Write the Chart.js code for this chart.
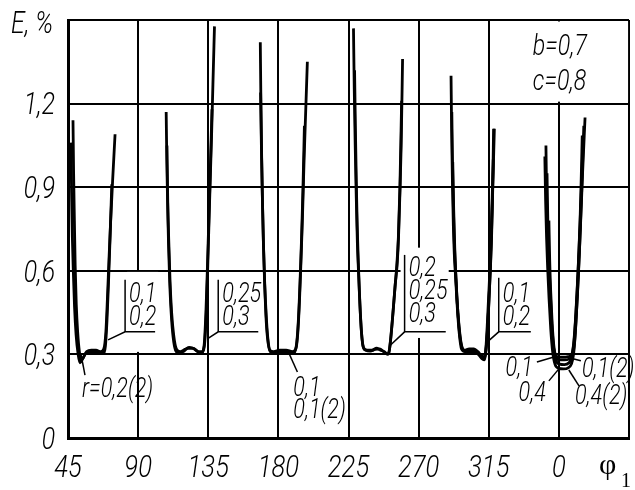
<!DOCTYPE html>
<html><head><meta charset="utf-8">
<script src="https://cdn.jsdelivr.net/npm/chart.js@4/dist/chart.umd.min.js"></script>
<style>html,body{margin:0;padding:0;background:#fff}#wrap{width:635px;height:490px}</style>
</head><body><div id="wrap"><canvas id="c" width="635" height="490"></canvas></div>
<script>
// ---- axes ----
const xTicks = [45, 90, 135, 180, 225, 270, 315, 360, 405];
const xTickLabels = ['45', '90', '135', '180', '225', '270', '315', '0', ''];
const yTicks = [0, 0.3, 0.6, 0.9, 1.2, 1.5];
const yTickLabels = ['0', '0,3', '0,6', '0,9', '1,2', ''];

// ---- curves (phi1 in degrees, E in %) ----
const u1a_x = [48.2,48.6,49.1,49.6,50.3,51.2,52.3,53.5,55,57,60,63,66,68,69.3,70.3,71.3,72.3,73.6,75.2];
const u1a_y = [1.14,0.95,0.78,0.62,0.48,0.38,0.31,0.28,0.29,0.31,0.315,0.315,0.31,0.32,0.38,0.5,0.64,0.77,0.92,1.09];
const u1b_x = [46.9,47.3,47.8,48.4,49.2,50.2,51.5,52.7,54.5,56.5,60,64,67.5,69,70,71,72,73.1];
const u1b_y = [1.06,0.88,0.72,0.6,0.47,0.37,0.3,0.27,0.285,0.305,0.31,0.31,0.305,0.33,0.42,0.56,0.72,0.91];

const u2a_x = [108,108.4,108.9,109.5,110.2,111.2,112.5,114,116,119,122,125,128,130.5,132.3,133.5,134.4,135.2,136,137.4];
const u2a_y = [1.17,1.0,0.85,0.7,0.57,0.45,0.36,0.315,0.305,0.31,0.322,0.322,0.31,0.305,0.33,0.45,0.6,0.75,0.9,1.18];
const u2b_x = [108.5,109,109.7,110.5,111.5,112.8,114.5,117,120,123,126,129,131,132.7,133.8,134.7,135.5,136.4,137.2,138,139];
const u2b_y = [1.05,0.85,0.7,0.56,0.45,0.37,0.32,0.31,0.318,0.325,0.32,0.31,0.31,0.34,0.46,0.62,0.78,0.95,1.1,1.27,1.477];

const u3a_x = [168.4,168.8,169.3,169.9,170.5,171.2,172,173,174.5,177,181,185,189,191.2,192.5,193.6,194.6,195.5,196.4,197.4,198.6];
const u3a_y = [1.42,1.2,1.0,0.82,0.68,0.55,0.44,0.36,0.315,0.31,0.315,0.315,0.31,0.32,0.38,0.5,0.65,0.8,0.98,1.15,1.35];
const u3b_x = [168.6,169.1,169.7,170.4,171.2,172.1,173.2,174.8,178,182,186,189.5,191.5,192.8,193.9,194.9,195.8,196.7];
const u3b_y = [1.24,1.05,0.87,0.7,0.56,0.45,0.36,0.31,0.305,0.31,0.31,0.305,0.33,0.42,0.56,0.72,0.9,1.12];

const u4a_x = [228.2,228.7,229.3,230,230.7,231.4,232.3,233.3,234.5,237,240,243,245.5,248,250.2,251.2,252.3,253.7,255,256.3,257.1,258,258.8,259.7];
const u4a_y = [1.47,1.25,1.05,0.86,0.7,0.6,0.48,0.38,0.325,0.315,0.315,0.322,0.315,0.31,0.3,0.315,0.37,0.46,0.55,0.63,0.72,0.88,1.05,1.36];
const u4b_x = [228.9,229.4,230,230.6,231.3,232.1,233.1,234.2,236,239,242,245,247.5,249.5,250.8,252,253.4,254.8,256,257,258,259.1];
const u4b_y = [1.32,1.12,0.92,0.76,0.63,0.51,0.4,0.335,0.315,0.312,0.318,0.32,0.31,0.302,0.305,0.35,0.44,0.54,0.62,0.72,0.9,1.21];

const u5a_x = [290.8,291.2,291.7,292.3,292.9,293.8,294.8,296,297.5,300,303,306,308.5,310.5,312,313,314,315,316,316.8,317.5,318.6];
const u5a_y = [1.30,1.1,0.92,0.76,0.66,0.57,0.47,0.38,0.32,0.31,0.315,0.315,0.3,0.285,0.28,0.3,0.37,0.48,0.6,0.72,0.88,1.11];
const u5b_x = [291.3,291.7,292.2,292.8,293.6,294.6,295.8,297.3,299.5,302.5,305.5,308,310.3,311.8,313,314.1,315.2,316.1,316.9,317.6,318.1];
const u5b_y = [1.17,1.0,0.85,0.72,0.61,0.5,0.41,0.34,0.315,0.32,0.32,0.31,0.295,0.29,0.31,0.38,0.5,0.62,0.76,0.92,1.11];
const u5c_x = [291.9,292.5,293.2,294.1,295.2,296.6,298.5,301,304,307,309.5,311.5,312.8,314,315.3,316.4,317.3,317.9];
const u5c_y = [0.99,0.82,0.68,0.56,0.45,0.36,0.315,0.31,0.31,0.305,0.295,0.285,0.3,0.4,0.55,0.7,0.88,1.0];

const u6a_x = [351.7,352.1,352.6,353.2,354,355,356.2,357.6,360,363,366,368.3,369.5,370.6,371.7,372.7,373.6,374.3,375];
const u6a_y = [1.05,0.88,0.74,0.64,0.53,0.42,0.34,0.3,0.29,0.29,0.292,0.3,0.34,0.42,0.53,0.65,0.78,0.92,1.085];
const u6b_x = [351,351.5,352.1,352.8,353.7,354.8,356,357.5,360,363,366,368,369.4,370.6,371.8,372.9,374,375.2,376.8];
const u6b_y = [1.01,0.85,0.72,0.61,0.5,0.39,0.31,0.265,0.25,0.248,0.252,0.265,0.3,0.38,0.5,0.63,0.78,0.95,1.15];
const u6c_x = [353.6,354.1,354.8,355.7,356.8,358.2,360.5,363.5,366.5,368.5,369.8,371,372.2,373.4,374.6,375.6];
const u6c_y = [0.78,0.64,0.52,0.41,0.33,0.29,0.28,0.28,0.283,0.3,0.35,0.45,0.58,0.74,0.92,1.085];
const u6d_x = [352.4,352.9,353.6,354.5,355.5,356.7,358,360.5,363.5,366.5,368.5,369.8,371,372.2,373.4,374.6,376];
const u6d_y = [0.95,0.78,0.64,0.52,0.41,0.32,0.28,0.265,0.263,0.27,0.29,0.33,0.42,0.55,0.7,0.88,1.12];

const curves = [
  [u1a_x,u1a_y],[u1b_x,u1b_y],[u2a_x,u2a_y],[u2b_x,u2b_y],[u3a_x,u3a_y],[u3b_x,u3b_y],
  [u4a_x,u4a_y],[u4b_x,u4b_y],[u5a_x,u5a_y],[u5b_x,u5b_y],[u5c_x,u5c_y],
  [u6a_x,u6a_y],[u6b_x,u6b_y],[u6c_x,u6c_y],[u6d_x,u6d_y]
];

// ---- annotations (data units) ----
const annTexts = [
  ['0,1', 84.2, 0.489, 'left'], ['0,2', 84.2, 0.406, 'left'],
  ['0,25', 144.0, 0.489, 'left'], ['0,3', 144.0, 0.406, 'left'],
  ['0,1', 189.6, 0.151, 'left'], ['0,1(2)', 189.6, 0.072, 'left'],
  ['r=0,2(2)', 54.0, 0.147, 'left'],
  ['0,2', 263.6, 0.582, 'left'], ['0,25', 263.6, 0.499, 'left'], ['0,3', 263.6, 0.417, 'left'],
  ['0,1', 324.0, 0.489, 'left'], ['0,2', 324.0, 0.406, 'left'],
  ['0,1', 343.3, 0.223, 'right'], ['0,4', 351.6, 0.133, 'right'],
  ['0,1(2)', 374.8, 0.219, 'left'], ['0,4(2)', 370.3, 0.122, 'left']
];
const paramTexts = [['b=0,7', 343.3, 1.376], ['c=0,8', 343.3, 1.250]];
const annLines = [
  [[70.7,0.352],[81.64,0.381],[100.9,0.381]], [[81.64,0.381],[81.64,0.568]],
  [[134.4,0.356],[141.4,0.381],[167.1,0.381]], [[141.4,0.381],[141.4,0.568]],
  [[186.4,0.309],[192.2,0.237]],
  [[53.4,0.298],[55.9,0.226]],
  [[252.0,0.334],[261.0,0.381],[287.4,0.381]], [[261.0,0.381],[261.0,0.657]],
  [[315.6,0.352],[321.4,0.381],[342.0,0.381]], [[321.4,0.381],[321.4,0.575]],
  [[345.9,0.273],[356.8,0.291]], [[353.6,0.205],[360.0,0.248]],
  [[374.1,0.277],[367.1,0.287]], [[372.9,0.187],[366.4,0.244]]
];
const whiteBoxes = [
  [82.9,102.9,0.596,0.309],
  [258.4,289.3,0.683,0.359],
  [316.9,404.4,1.4946,1.207]
];

const SANS = 'Roboto, "Liberation Sans", sans-serif';
const SERIF = '"Liberation Serif", "DejaVu Serif", serif';
const NARROW = 0.8;

function narrowText(ctx, text, px, py, align, baseline, size) {
  ctx.save();
  ctx.translate(px, py);
  ctx.scale(NARROW, 1);
  ctx.font = 'italic 300 ' + size + 'px ' + SANS;
  ctx.textAlign = align;
  ctx.textBaseline = baseline;
  ctx.fillText(text, 0, 0);
  ctx.restore();
}

const annPlugin = {
  id: 'annPlugin',
  beforeDatasetsDraw(chart) {
    const {ctx, scales: {x, y}} = chart;
    ctx.save();
    ctx.fillStyle = '#fff';
    whiteBoxes.forEach(b => {
      const x0 = x.getPixelForValue(b[0]), x1 = x.getPixelForValue(b[1]);
      const y0 = y.getPixelForValue(b[2]), y1 = y.getPixelForValue(b[3]);
      ctx.fillRect(Math.min(x0,x1), Math.min(y0,y1), Math.abs(x1-x0), Math.abs(y1-y0));
    });
    ctx.restore();
  },
  afterDatasetsDraw(chart) {
    const {ctx, scales: {x, y}, chartArea} = chart;
    ctx.save();
    ctx.strokeStyle = '#000';
    ctx.lineWidth = 1.5;
    annLines.forEach(pl => {
      ctx.beginPath();
      pl.forEach((p, i) => {
        const px = x.getPixelForValue(p[0]), py = y.getPixelForValue(p[1]);
        if (i === 0) ctx.moveTo(px, py); else ctx.lineTo(px, py);
      });
      ctx.stroke();
    });
    ctx.fillStyle = '#000';
    annTexts.forEach(t => narrowText(ctx, t[0], x.getPixelForValue(t[1]), y.getPixelForValue(t[2]), t[3], 'alphabetic', 27));
    paramTexts.forEach(t => narrowText(ctx, t[0], x.getPixelForValue(t[1]), y.getPixelForValue(t[2]), 'left', 'alphabetic', 29));
    // tick labels
    yTicks.forEach((v, i) => narrowText(ctx, yTickLabels[i], chartArea.left - 13, y.getPixelForValue(v) + 3, 'right', 'middle', 31));
    xTicks.forEach((v, i) => narrowText(ctx, xTickLabels[i], x.getPixelForValue(v), chartArea.bottom + 31, 'center', 'middle', 32));
    // axis titles
    narrowText(ctx, 'E, %', chartArea.left - 57, chartArea.top + 13, 'left', 'alphabetic', 31);
    ctx.font = '30px ' + SERIF;
    ctx.textAlign = 'left';
    ctx.textBaseline = 'alphabetic';
    ctx.fillText('φ', chartArea.right - 30, chartArea.bottom + 36);
    ctx.font = '20px ' + SERIF;
    ctx.fillText('1', chartArea.right - 8, chartArea.bottom + 49);
    ctx.restore();
  }
};

const datasets = curves.map(c => ({
  data: c[0].map((v, i) => ({x: v, y: c[1][i]})),
  borderColor: '#000',
  borderWidth: 2.8,
  pointRadius: 0,
  showLine: true,
  fill: false,
  cubicInterpolationMode: 'monotone'
}));

new Chart(document.getElementById('c'), {
  type: 'scatter',
  data: {datasets},
  plugins: [annPlugin],
  options: {
    responsive: false,
    animation: false,
    devicePixelRatio: 1,
    layout: {padding: {top: 20, right: 6, left: 0, bottom: 0}},
    plugins: {legend: {display: false}, tooltip: {enabled: false}},
    scales: {
      x: {
        type: 'linear', min: 45, max: 405,
        afterBuildTicks: s => { s.ticks = xTicks.map(v => ({value: v})); },
        afterFit: s => { s.height = 52; },
        grid: {color: '#000', lineWidth: 2, drawTicks: false},
        border: {display: true, color: '#000', width: 3},
        ticks: {display: false}
      },
      y: {
        type: 'linear', min: 0, max: 1.5,
        afterBuildTicks: s => { s.ticks = yTicks.map(v => ({value: v})); },
        afterFit: s => { s.width = 68; },
        grid: {color: '#000', lineWidth: 2, drawTicks: false},
        border: {display: true, color: '#000', width: 3},
        ticks: {display: false}
      }
    }
  }
});
</script></body></html>
